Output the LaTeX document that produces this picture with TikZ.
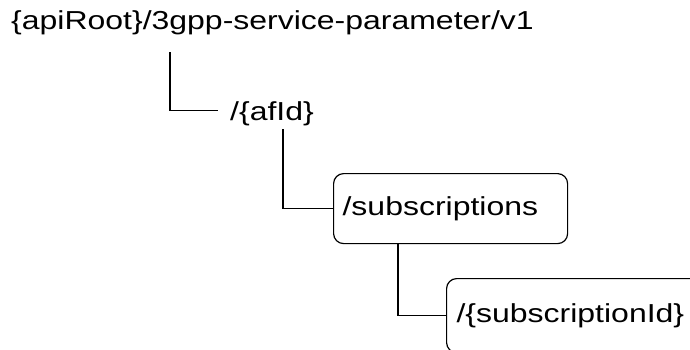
\documentclass[tikz,border=0pt]{standalone}
\usepackage{fontspec}
\setmainfont{Liberation Sans}[FakeStretch=1.23]
\usetikzlibrary{positioning}

\tikzset{
  restext/.style={font=\fontsize{26}{31}\selectfont, inner sep=0pt},
  resbox/.style={restext, draw, line width=1.2pt, rounded corners=10pt,
    inner xsep=9pt, align=left, anchor=north west},
  branch/.style={line width=1.2pt}
}

\begin{document}
\begin{tikzpicture}[x=1pt, y=-1pt]
\useasboundingbox (0,0) rectangle (690,349);
\clip (0,0) rectangle (690,349);

% Resource names
\node[restext, anchor=base west] (root) at (11,29) {\{apiRoot\}/3gpp-service-parameter/v1};
\node[restext, anchor=base west, inner xsep=12pt, inner ysep=3.5pt] (afid) at (218,120) {/\{afId\}};
\node[resbox, minimum height=70pt, text width=216pt] (subs) at (333,173) {/subscriptions};
\node[resbox, minimum height=74pt, text width=250pt, inner xsep=10pt] (subid) at (446,278) {/\{subscriptionId\}};

% Tree branches
\coordinate (rootstem) at (170,52);
\draw[branch] (rootstem) |- ([yshift=3pt]afid.west);
\draw[branch] ([xshift=11pt]afid.south) |- (subs.west);
\draw[branch] ([xshift=65pt]subs.south west) |- (subid.west);

\end{tikzpicture}
\end{document}
